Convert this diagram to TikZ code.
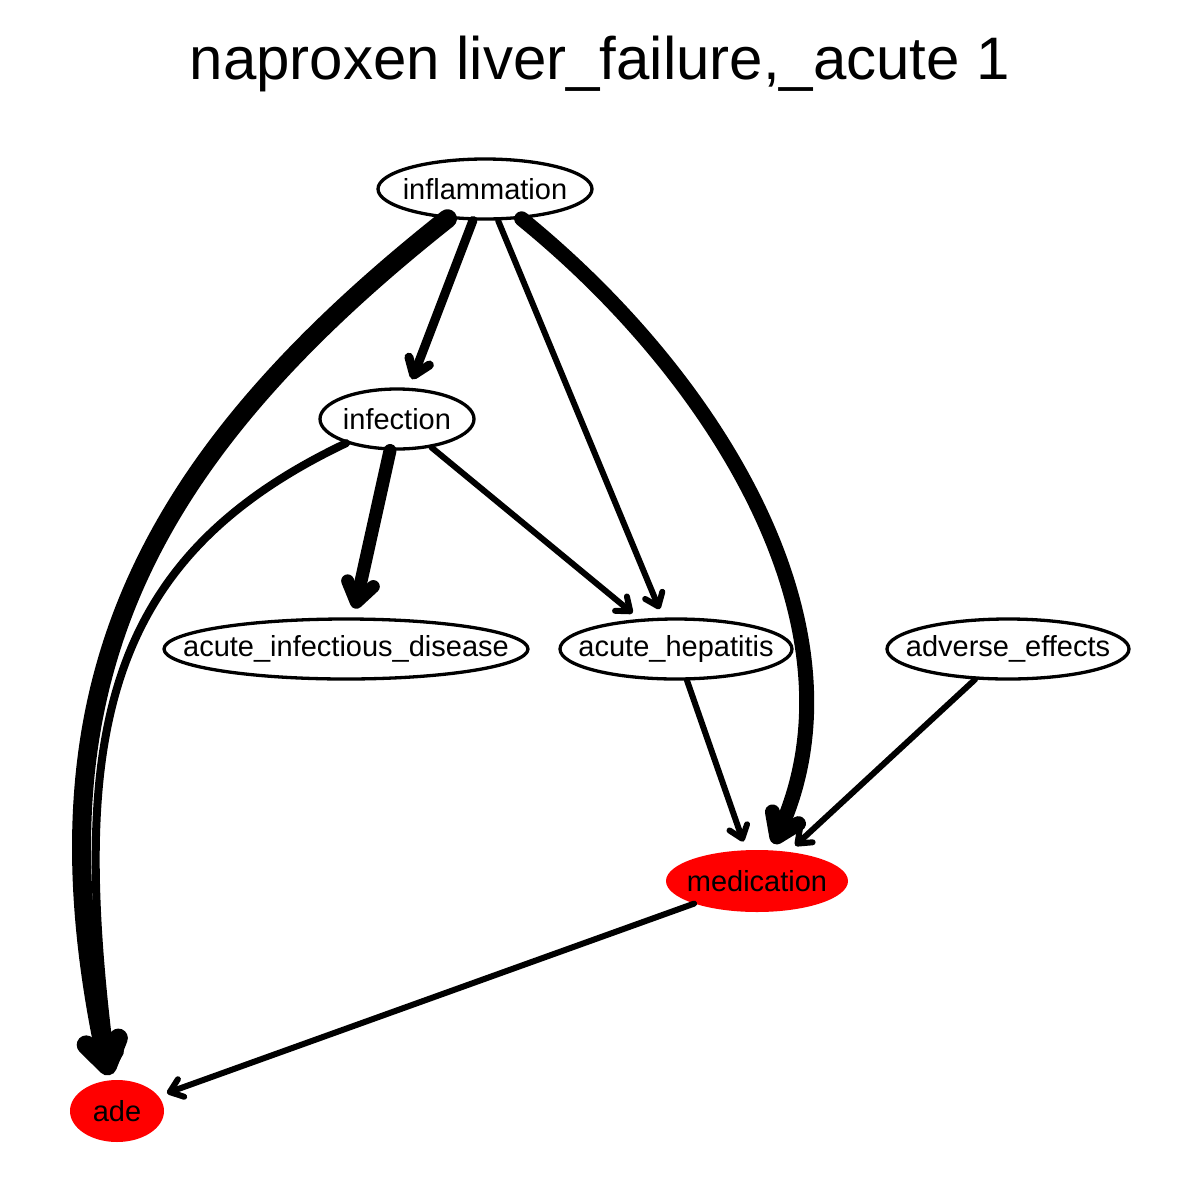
\documentclass[tikz,border=0pt]{standalone}
\usepackage{fontspec}
\setmainfont{Liberation Sans}
\usetikzlibrary{shapes.geometric,arrows.meta}
\definecolor{nodered}{RGB}{255,0,0}
\tikzset{
  nd/.style={ellipse, draw=black, line width=3.3pt, inner sep=0pt},
  ndred/.style={ellipse, fill=nodered, draw=none, inner sep=0pt},
  lbl/.style={label={[font=\fontsize{29}{34}\selectfont, inner sep=0pt]center:#1}},
  edge/.style={line cap=round, line join=round, shorten >=9pt,
    -{Straight Barb[round, length=6pt 1.0, width=12pt 1.1]}},
}
\begin{document}
\begin{tikzpicture}[x=1pt,y=-1pt]
\useasboundingbox (0,0) rectangle (1200,1200);
\fill[white] (0,0) rectangle (1200,1200);
\node[font=\fontsize{60}{66}\selectfont] (title) at (600,64) {naproxen liver\_failure,\_acute 1};

\node[nd, minimum width=214pt, minimum height=60pt, lbl=inflammation] (infl) at (485,189) {};
\node[nd, minimum width=154pt, minimum height=60pt, lbl=infection] (inf) at (397,419) {};
\node[nd, minimum width=364pt, minimum height=60pt, lbl=acute\_infectious\_disease] (aid) at (346,649) {};
\node[nd, minimum width=232pt, minimum height=60pt, lbl=acute\_hepatitis] (ah) at (676,649) {};
\node[nd, minimum width=242pt, minimum height=60pt, lbl=adverse\_effects] (ae) at (1008,649) {};
\node[ndred, minimum width=182pt, minimum height=62pt, lbl=medication] (med) at (757,881) {};
\node[ndred, minimum width=94pt, minimum height=62pt, lbl=ade] (ade) at (117,1111) {};

\draw[edge, line width=19pt, shorten >=5pt] (infl) .. controls (130,470) and (30,700) .. (ade);
\draw[edge, line width=8pt] (inf) .. controls (100,560) and (70,740) .. (ade);
\draw[edge, line width=15pt, shorten >=7pt] (infl) .. controls (720,380) and (870,630) .. (med);
\draw[edge, line width=9pt] (infl) -- (inf);
\draw[edge, line width=6pt] (infl) -- (ah);
\draw[edge, line width=13pt] (inf) -- (aid);
\draw[edge, line width=6pt] (inf) -- (ah);
\draw[edge, line width=6pt] (ah) -- (med);
\draw[edge, line width=6pt] (ae) -- (med);
\draw[edge, line width=6pt] (med) -- (ade);
\end{tikzpicture}
\end{document}
